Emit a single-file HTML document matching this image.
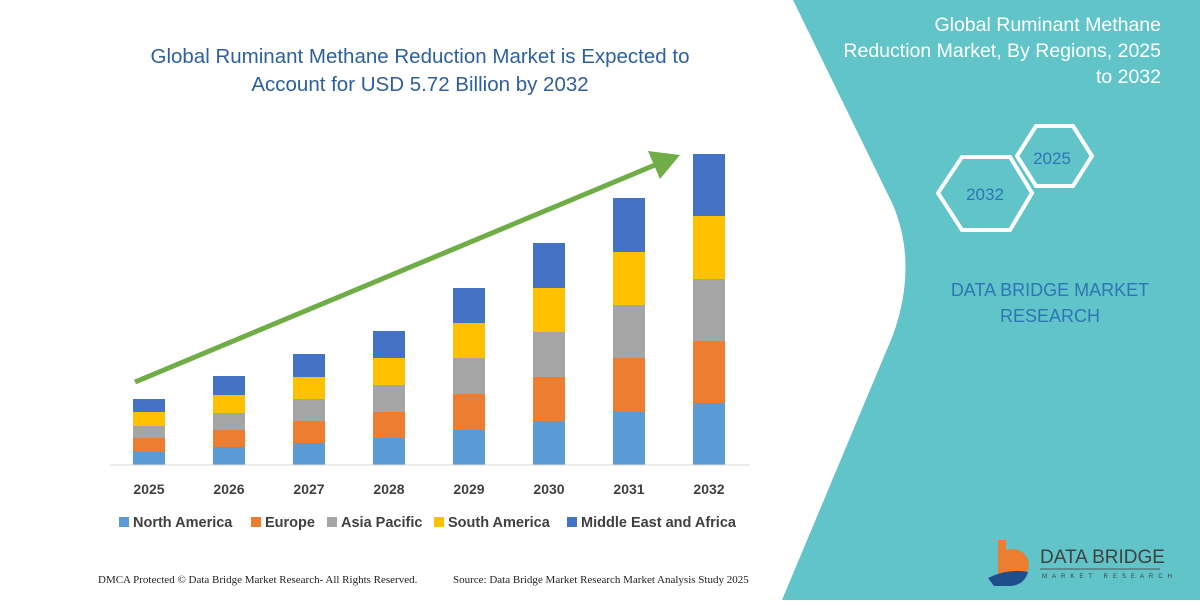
<!DOCTYPE html>
<html><head><meta charset="utf-8"><style>
body{margin:0;width:1200px;height:600px;overflow:hidden;background:#fff;font-family:"Liberation Sans",sans-serif}
</style></head><body>
<svg width="1200" height="600" xmlns="http://www.w3.org/2000/svg" font-family="Liberation Sans, sans-serif">
<rect width="1200" height="600" fill="#fff"/>
<path d="M793,0 L1200,0 L1200,600 L782,600 L893,335 Q918,265 893,205 Z" fill="#60c4c9"/>
<text x="420" y="63" font-size="20.5" fill="#2e5f9e" text-anchor="middle">Global Ruminant Methane Reduction Market is Expected to</text>
<text x="420" y="91" font-size="20.5" fill="#2e5f9e" text-anchor="middle">Account for USD 5.72 Billion by 2032</text>
<g stroke="none">
<g fill="#5b9bd5">
<rect x="133" y="452" width="32" height="13"/><rect x="213" y="447" width="32" height="18"/><rect x="293" y="443" width="32" height="22"/><rect x="373" y="438" width="32" height="27"/><rect x="453" y="430" width="32" height="35"/><rect x="533" y="421" width="32" height="44"/><rect x="613" y="412" width="32" height="53"/><rect x="693" y="403" width="32" height="62"/></g>
<g fill="#ed7d31">
<rect x="133" y="438" width="32" height="14"/><rect x="213" y="430" width="32" height="17"/><rect x="293" y="421" width="32" height="22"/><rect x="373" y="412" width="32" height="26"/><rect x="453" y="394" width="32" height="36"/><rect x="533" y="377" width="32" height="44"/><rect x="613" y="358" width="32" height="54"/><rect x="693" y="341" width="32" height="62"/></g>
<g fill="#a5a5a5">
<rect x="133" y="426" width="32" height="12"/><rect x="213" y="413" width="32" height="17"/><rect x="293" y="399" width="32" height="22"/><rect x="373" y="385" width="32" height="27"/><rect x="453" y="358" width="32" height="36"/><rect x="533" y="332" width="32" height="45"/><rect x="613" y="305" width="32" height="53"/><rect x="693" y="279" width="32" height="62"/></g>
<g fill="#ffc000">
<rect x="133" y="412" width="32" height="14"/><rect x="213" y="395" width="32" height="18"/><rect x="293" y="377" width="32" height="22"/><rect x="373" y="358" width="32" height="27"/><rect x="453" y="323" width="32" height="35"/><rect x="533" y="288" width="32" height="44"/><rect x="613" y="252" width="32" height="53"/><rect x="693" y="216" width="32" height="63"/></g>
<g fill="#4472c4">
<rect x="133" y="399" width="32" height="13"/><rect x="213" y="376" width="32" height="19"/><rect x="293" y="354" width="32" height="23"/><rect x="373" y="331" width="32" height="27"/><rect x="453" y="288" width="32" height="35"/><rect x="533" y="243" width="32" height="45"/><rect x="613" y="198" width="32" height="54"/><rect x="693" y="154" width="32" height="62"/></g>
</g>
<line x1="110" y1="465" x2="750" y2="465" stroke="#d9d9d9" stroke-width="1"/>
<line x1="135" y1="382" x2="655" y2="165" stroke="#70ad47" stroke-width="5"/>
<polygon points="680,155 648,151 660,179" fill="#70ad47"/>
<g font-size="14" font-weight="bold" fill="#404040" text-anchor="middle">
<text x="149" y="494">2025</text><text x="229" y="494">2026</text><text x="309" y="494">2027</text><text x="389" y="494">2028</text><text x="469" y="494">2029</text><text x="549" y="494">2030</text><text x="629" y="494">2031</text><text x="709" y="494">2032</text></g>
<g font-size="14.5" font-weight="bold" fill="#404040">
<rect x="119" y="517" width="10" height="10" fill="#5b9bd5"/><text x="133" y="527">North America</text>
<rect x="251" y="517" width="10" height="10" fill="#ed7d31"/><text x="265" y="527">Europe</text>
<rect x="327" y="517" width="10" height="10" fill="#a5a5a5"/><text x="341" y="527">Asia Pacific</text>
<rect x="434" y="517" width="10" height="10" fill="#ffc000"/><text x="448" y="527">South America</text>
<rect x="567" y="517" width="10" height="10" fill="#4472c4"/><text x="581" y="527">Middle East and Africa</text>
</g>
<g font-family="Liberation Serif, serif" font-size="11" fill="#222">
<text x="98" y="583">DMCA Protected © Data Bridge Market Research-  All Rights Reserved.</text>
<text x="453" y="583">Source: Data Bridge Market Research  Market Analysis Study 2025</text></g>
<g font-size="19.5" fill="#fff" text-anchor="end">
<text x="1161" y="31">Global Ruminant Methane</text>
<text x="1161" y="57">Reduction Market, By Regions, 2025</text>
<text x="1161" y="83">to 2032</text></g>
<polygon points="1017,156 1036,126 1073,126 1092,156 1073,186 1036,186" fill="none" stroke="#fff" stroke-width="4"/>
<polygon points="938,193 962,157 1010,157 1032,193 1010,230 962,230" fill="none" stroke="#fff" stroke-width="4"/>
<text x="1052" y="164" font-size="17" fill="#2e75b6" text-anchor="middle">2025</text>
<text x="985" y="200" font-size="17" fill="#2e75b6" text-anchor="middle">2032</text>
<g font-size="18" fill="#2e75b6" text-anchor="middle">
<text x="1050" y="296">DATA BRIDGE MARKET</text><text x="1050" y="322">RESEARCH</text></g>
<path d="M998,540 h8 v10 q16,-4 22,10 q4,14 -12,20 h-18 z" fill="#ed7d31"/>
<path d="M988,578 q20,-10 40,-6 q-4,14 -20,14 h-14 z" fill="#1f4e8c"/>
<text x="1040" y="563" font-size="19" fill="#404040">DATA BRIDGE</text>
<line x1="1040" y1="569" x2="1160" y2="569" stroke="#555" stroke-width="1"/>
<text x="1042" y="578" font-size="6" fill="#404040" letter-spacing="5">MARKET RESEARCH</text>
</svg>
</body></html>
